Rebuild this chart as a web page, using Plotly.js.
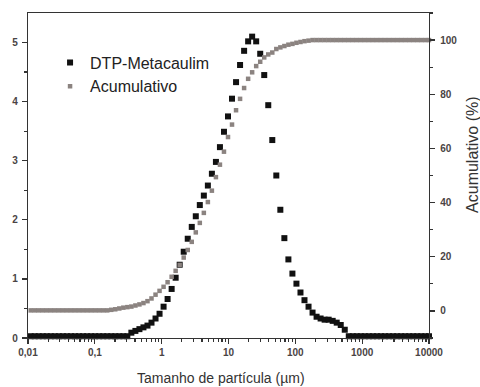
<!DOCTYPE html>
<html>
<head>
<meta charset="utf-8">
<script src="https://cdn.plot.ly/plotly-3.0.1.min.js"></script>
<style>html,body{margin:0;padding:0;background:#fff;}#chart{width:480px;height:387px;}</style>
</head>
<body>
<div id="chart"></div>
<script>
// Particle size (µm)
const sizes = [0.01098,0.01262,0.01449,0.01665,0.01913,0.02197,0.02524,0.02900,0.03332,0.03827,
0.04396,0.05050,0.05802,0.06665,0.07656,0.08796,0.1010,0.1161,0.1334,0.1532,
0.1760,0.2022,0.2323,0.2668,0.3065,0.3521,0.4045,0.4647,0.5338,0.6133,
0.7045,0.8093,0.9298,1.068,1.227,1.410,1.619,1.860,2.137,2.455,
2.820,3.240,3.722,4.276,4.912,5.643,6.483,7.447,8.555,9.829,
11.29,12.97,14.90,17.12,19.67,22.59,25.95,29.82,34.25,39.35,
45.21,51.93,59.66,68.54,78.74,90.45,103.9,119.4,137.1,157.6,
181.0,207.9,238.8,274.4,315.2,362.1,415.9,477.9,548.9,630.6,
724.4,832.2,956.0,1098,1262,1449,1665,1913,2197,2524,
2900,3332,3827,4396,5050,5802,6665,7656,8796,10000];

// DTP-Metacaulim (left axis)
const dtp = [0.03,0.03,0.03,0.03,0.03,0.03,0.03,0.03,0.03,0.03,
0.03,0.03,0.03,0.03,0.03,0.03,0.03,0.03,0.03,0.03,
0.03,0.03,0.03,0.03,0.03,0.09,0.12,0.15,0.18,0.21,
0.26,0.33,0.41,0.53,0.66,0.83,1.02,1.24,1.46,1.68,
1.88,2.06,2.25,2.41,2.58,2.78,2.98,3.23,3.49,3.75,
4.05,4.33,4.62,4.86,5.02,5.10,5.02,4.81,4.45,3.94,
3.35,2.75,2.17,1.69,1.33,1.09,0.92,0.77,0.64,0.53,
0.43,0.36,0.33,0.31,0.31,0.29,0.26,0.22,0.14,0.03,
0.03,0.03,0.03,0.03,0.03,0.03,0.03,0.03,0.03,0.03,
0.03,0.03,0.03,0.03,0.03,0.03,0.03,0.03,0.03,0.03];

// Acumulativo (%) (right axis)
const acum = [0.2,0.2,0.2,0.2,0.2,0.2,0.2,0.2,0.2,0.2,
0.2,0.2,0.2,0.2,0.2,0.2,0.2,0.2,0.2,0.2,
0.4,0.6,0.9,1.2,1.4,1.6,2.0,2.4,2.9,3.6,
4.6,6.0,7.4,8.9,10.6,12.6,14.8,17.0,19.7,22.5,
25.5,29.0,32.5,36.2,40.2,44.4,49.4,54.0,58.8,64.2,
68.8,74.1,78.3,82.3,85.7,88.1,90.4,92.0,93.6,94.7,
95.4,96.7,97.3,97.8,98.3,98.6,99.0,99.3,99.6,99.8,
100,100,100,100,100,100,100,100,100,100,
100,100,100,100,100,100,100,100,100,100,
100,100,100,100,100,100,100,100,100,100];

const xTickVals = [0.01,0.1,1,10,100,1000,10000];
const xTickText = ['0,01','0,1','1','10','100','1000','10000'];
const yTickVals = [0,1,2,3,4,5];
const yMinorVals = [0.5,1.5,2.5,3.5,4.5];
const y2TickVals = [0,20,40,60,80,100];
const y2MinorVals = [-10,10,30,50,70,90,110];

const minorX = [];
for (let e = -2; e < 4; e++) {
  for (let m = 2; m <= 9; m++) minorX.push(m * Math.pow(10, e));
}

const axisColor = '#333333';
const tickFont = {family: 'Liberation Sans, Arial, sans-serif', size: 10, color: '#4a4444', weight: 'bold'};

const traces = [
  {x: sizes, y: dtp, type: 'scatter', mode: 'markers', name: 'DTP-Metacaulim',
   marker: {symbol: 'square', size: 6, color: '#111111'}, cliponaxis: false, xaxis: 'x', yaxis: 'y'},
  {x: sizes, y: acum, type: 'scatter', mode: 'markers', name: 'Acumulativo',
   marker: {symbol: 'square', size: 4.5, color: '#8b8380'}, cliponaxis: false, xaxis: 'x', yaxis: 'y2'}
];

const layout = {
  width: 480, height: 387,
  margin: {l: 28, r: 51, t: 13, b: 49},
  paper_bgcolor: '#ffffff', plot_bgcolor: '#ffffff',
  showlegend: true,
  legend: {x: 0.055, y: 0.9, xanchor: 'left', yanchor: 'top', bgcolor: 'rgba(0,0,0,0)',
           font: {family: 'Liberation Sans, Arial, sans-serif', size: 16, color: '#222222'}},
  xaxis: {type: 'log', range: [-2, 4], tickmode: 'array', tickvals: xTickVals, ticktext: xTickText,
          ticks: 'outside', ticklen: 5, tickcolor: axisColor, tickwidth: 1.3,
          showline: true, linecolor: axisColor, linewidth: 1.2, mirror: true,
          showgrid: false, zeroline: false, tickfont: tickFont,
          minor: {tickmode: 'array', tickvals: minorX, ticks: 'outside', ticklen: 3, tickwidth: 1.2, tickcolor: axisColor, showgrid: false}},
  yaxis: {range: [0, 5.5], tickmode: 'array', tickvals: yTickVals,
          ticks: 'outside', ticklen: 5, tickcolor: axisColor, tickwidth: 1.3, ticklabelstandoff: 2,
          showline: true, linecolor: axisColor, linewidth: 1.2,
          showgrid: false, zeroline: false, tickfont: tickFont,
          minor: {tickmode: 'array', tickvals: yMinorVals, ticks: 'outside', ticklen: 3, tickwidth: 1.2, tickcolor: axisColor, showgrid: false}},
  yaxis2: {range: [-10, 110], overlaying: 'y', side: 'right', anchor: 'x', tickmode: 'array', tickvals: y2TickVals,
          ticks: 'outside', ticklen: 5, tickcolor: axisColor, tickwidth: 1.3, ticklabelstandoff: 3,
          showline: true, linecolor: axisColor, linewidth: 1.2,
          showgrid: false, zeroline: false, tickfont: tickFont,
          minor: {tickmode: 'array', tickvals: y2MinorVals, ticks: 'outside', ticklen: 3, tickwidth: 1.2, tickcolor: axisColor, showgrid: false}},
  annotations: [
    {text: 'Tamanho de partícula (µm)', xref: 'paper', yref: 'paper', x: 0.481, y: -0.122,
     xanchor: 'center', yanchor: 'middle', showarrow: false,
     font: {family: 'Liberation Sans, Arial, sans-serif', size: 14, color: '#333333'}},
    {text: 'Acumulativo (%)', xref: 'paper', yref: 'paper', x: 1.107, y: 0.563,
     xanchor: 'center', yanchor: 'middle', showarrow: false, textangle: -90,
     font: {family: 'Liberation Sans, Arial, sans-serif', size: 16, color: '#333333'}}
  ]
};

Plotly.newPlot('chart', traces, layout, {displayModeBar: false, staticPlot: true});
</script>
</body>
</html>
